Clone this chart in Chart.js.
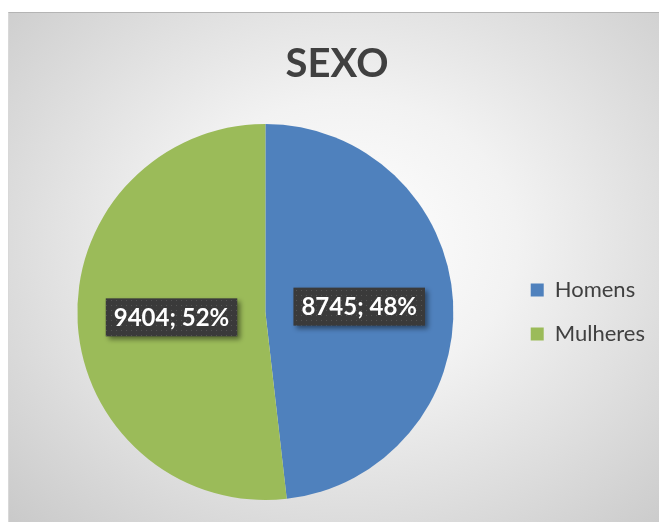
<!DOCTYPE html>
<html>
<head>
<meta charset="utf-8">
<script src="https://cdn.jsdelivr.net/npm/chart.js@4.4.0/dist/chart.umd.min.js"></script>
<style>
  html, body { margin: 0; padding: 0; background: #fff; }
  #wrap {
    position: absolute; left: 8px; top: 12px; width: 651px; height: 510px;
    box-sizing: border-box; border-top: 1px solid #b4b4b4; border-left: 1px solid #d8d8d8;
    background: radial-gradient(ellipse 75% 80% at 52% 45%, #ffffff 0%, #f2f2f2 35%, #c8c8c8 100%);
  }
  canvas { display: block; }
</style>
</head>
<body>
<div id="wrap"><canvas id="chartSexo" width="650" height="509"></canvas></div>
<script>
// Chart data
const categories = ['Homens', 'Mulheres'];
const values = [8745, 9404];
const colors = ['#4F81BD', '#9BBB59'];
const titleText = 'SEXO';

const fontFamily = 'Lato, "Open Sans", sans-serif';

// dark dotted pattern for the data labels
function makePattern(ctx) {
    const c = document.createElement('canvas');
    c.width = 5; c.height = 5;
    const p = c.getContext('2d');
    p.fillStyle = '#3a3a3a';
    p.fillRect(0, 0, 5, 5);
    p.fillStyle = '#555555';
    p.fillRect(2, 2, 1, 1);
    return ctx.createPattern(c, 'repeat');
}

// Title drawn at a fixed horizontal position
const titlePlugin = {
    id: 'titlePlugin',
    afterDraw(chart) {
        const ctx = chart.ctx;
        ctx.save();
        ctx.font = 'bold 40px ' + fontFamily;
        ctx.fillStyle = '#404040';
        ctx.textAlign = 'center';
        ctx.textBaseline = 'alphabetic';
        ctx.fillText(titleText, 328, 64);
        ctx.restore();
    }
};

// Data labels "value; percent"
const labelPlugin = {
    id: 'labelPlugin',
    afterDatasetsDraw(chart) {
        const ctx = chart.ctx;
        const meta = chart.getDatasetMeta(0);
        const total = values.reduce((a, b) => a + b, 0);
        const pattern = makePattern(ctx);
        meta.data.forEach((arc, i) => {
            const pos = arc.tooltipPosition();
            const text = values[i] + '; ' + Math.round(values[i] / total * 100) + '%';
            ctx.save();
            ctx.font = 'bold 24px ' + fontFamily;
            const w = ctx.measureText(text).width + 16;
            const h = 38;
            ctx.shadowColor = 'rgba(0,0,0,0.45)';
            ctx.shadowBlur = 5;
            ctx.shadowOffsetX = 3;
            ctx.shadowOffsetY = 3;
            ctx.fillStyle = pattern;
            ctx.fillRect(pos.x - w / 2, pos.y - h / 2, w, h);
            ctx.shadowColor = 'transparent';
            ctx.fillStyle = '#ffffff';
            ctx.textAlign = 'center';
            ctx.textBaseline = 'middle';
            ctx.fillText(text, pos.x, pos.y + 1);
            ctx.restore();
        });
    }
};

const ctx = document.getElementById('chartSexo').getContext('2d');
new Chart(ctx, {
    type: 'pie',
    data: {
        labels: categories,
        datasets: [{
            data: values,
            backgroundColor: colors,
            borderWidth: 0
        }]
    },
    options: {
        responsive: false,
        animation: false,
        layout: {
            padding: { top: 111, bottom: 22, left: 13, right: 4 }
        },
        plugins: {
            legend: {
                position: 'right',
                labels: {
                    boxWidth: 13,
                    boxHeight: 13,
                    padding: 22,
                    color: '#404040',
                    font: { family: fontFamily, size: 22 }
                }
            },
            tooltip: { enabled: false },
            title: { display: false }
        }
    },
    plugins: [titlePlugin, labelPlugin]
});
</script>
</body>
</html>
